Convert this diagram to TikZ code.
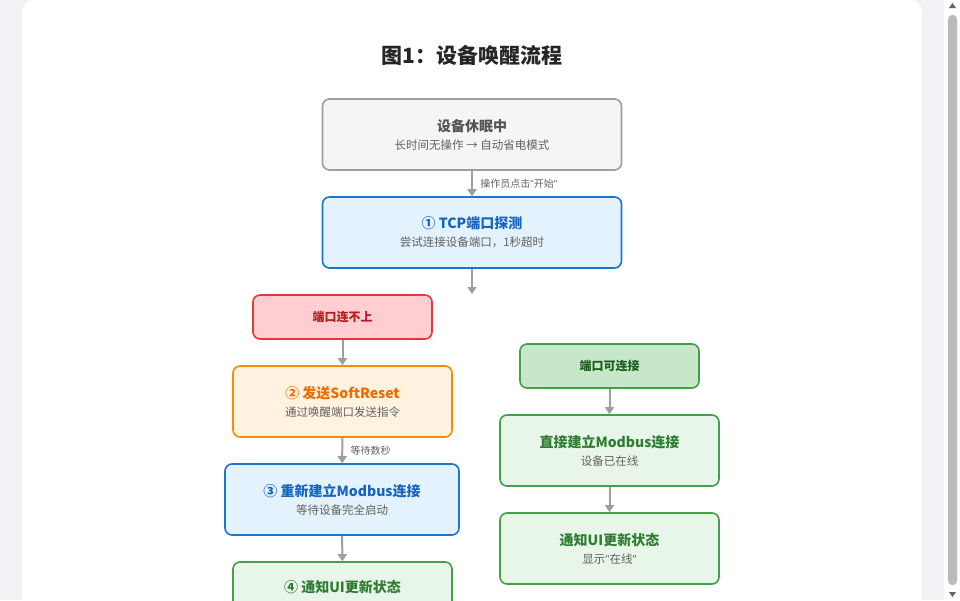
\documentclass[tikz,border=0pt]{standalone}
\usepackage{fontspec}
\setmainfont{Noto Sans CJK SC}
\newfontfamily\qtfont{Liberation Sans}
\usetikzlibrary{arrows.meta}
\definecolor{pagebg}{HTML}{F0F2F5}
\definecolor{flowline}{HTML}{9E9E9E}
\definecolor{subtext}{HTML}{616161}
\definecolor{greyfill}{HTML}{F5F5F5}
\definecolor{greydraw}{HTML}{9E9E9E}
\definecolor{greytext}{HTML}{555555}
\definecolor{bluefill}{HTML}{E3F2FD}
\definecolor{bluedraw}{HTML}{1976D2}
\definecolor{bluetext}{HTML}{1565C0}
\definecolor{redfill}{HTML}{FFCDD2}
\definecolor{reddraw}{HTML}{E53935}
\definecolor{redtext}{HTML}{B71C1C}
\definecolor{orangefill}{HTML}{FFF3E0}
\definecolor{orangedraw}{HTML}{FB8C00}
\definecolor{orangetext}{HTML}{EF6C00}
\definecolor{greenfill}{HTML}{E8F5E9}
\definecolor{okfill}{HTML}{C8E6C9}
\definecolor{greendraw}{HTML}{43A047}
\definecolor{greentext}{HTML}{2E7D32}
\definecolor{okgreen}{HTML}{1B5E20}
\newcommand{\steptext}[2]{{\bfseries\fontsize{14}{16}\selectfont #1}\\[6pt]{\color{subtext}\fontsize{11.5}{13}\selectfont #2}}
\newcommand{\qt}{{\qtfont\char34}}

\begin{document}
\begin{tikzpicture}[
  x=1pt, y=-1pt,
  stepbox/.style={draw,rectangle,rounded corners=7pt,line width=1.6pt,
    minimum width=299pt,minimum height=71pt,align=center,inner sep=0pt},
  smallbox/.style={stepbox,minimum width=179pt,minimum height=44pt},
  flow/.style={draw=flowline,line width=2pt,-{Triangle[width=9pt,length=7pt]}},
  note/.style={font=\fontsize{10}{12}\selectfont,text=subtext,anchor=west},
  ]
  \useasboundingbox (0,0) rectangle (960,600);
  \clip (0,0) rectangle (960,600);
  %Page
  \fill[pagebg] (0,0) rectangle (960,600);
  \fill[white,rounded corners=12pt] (22,0) rectangle (922,640);
  \fill[white] (944,0) rectangle (960,600);
  \fill[flowline!70,rounded corners=4pt] (948,15) rectangle (957,585);
  \fill[black!60] (949,8) -- (956,8) -- (952.5,3) -- cycle;
  \fill[black!60] (949,592) -- (956,592) -- (952.5,597) -- cycle;
  %Title
  \node[font=\bfseries\fontsize{21}{24}\selectfont,text=black!85] (title) at (472,55) {图1：设备唤醒流程};
  %Nodes
  \node[stepbox,fill=greyfill,draw=greydraw,text=greytext] (sleep) at (472,134.5)
    {\steptext{设备休眠中}{长时间无操作 → 自动省电模式}};
  \node[stepbox,fill=bluefill,draw=bluedraw,text=bluetext] (probe) at (472,232.5)
    {\steptext{① TCP端口探测}{尝试连接设备端口，1秒超时}};
  \coordinate (split) at (472,294);
  \node[smallbox,fill=redfill,draw=reddraw,text=redtext,font=\bfseries\fontsize{12}{14}\selectfont] (fail) at (342.5,317) {端口连不上};
  \node[stepbox,minimum width=219pt,fill=orangefill,draw=orangedraw,text=orangetext] (reset) at (342.5,401.5)
    {\steptext{② 发送SoftReset}{通过唤醒端口发送指令}};
  \node[stepbox,minimum width=234pt,fill=bluefill,draw=bluedraw,text=bluetext] (reconnect) at (342,499.5)
    {\steptext{③ 重新建立Modbus连接}{等待设备完全启动}};
  \node[stepbox,minimum width=219pt,fill=greenfill,draw=greendraw,text=greentext] (notify1) at (342.5,597.5)
    {\steptext{④ 通知UI更新状态}{\strut}};
  \node[smallbox,fill=okfill,draw=greendraw,text=okgreen,font=\bfseries\fontsize{12}{14}\selectfont] (ok) at (609.5,366) {端口可连接};
  \node[stepbox,minimum width=219pt,fill=greenfill,draw=greendraw,text=greentext] (direct) at (609.5,450.5)
    {\steptext{直接建立Modbus连接}{设备已在线}};
  \node[stepbox,minimum width=219pt,fill=greenfill,draw=greendraw,text=greentext] (notify2) at (609.5,548.5)
    {\steptext{通知UI更新状态}{显示\qt 在线\qt}};
  %Lines
  \draw[flow] (sleep) -- node[note,right=4pt] {操作员点击\qt 开始\qt} (probe);
  \draw[flow] (probe) -- (split);
  \draw[flow] (fail) -- (reset);
  \draw[flow] (reset) -- node[note,right=4pt] {等待数秒} (reconnect);
  \draw[flow] (reconnect) -- (notify1);
  \draw[flow] (ok) -- (direct);
  \draw[flow] (direct) -- (notify2);
\end{tikzpicture}
\end{document}
